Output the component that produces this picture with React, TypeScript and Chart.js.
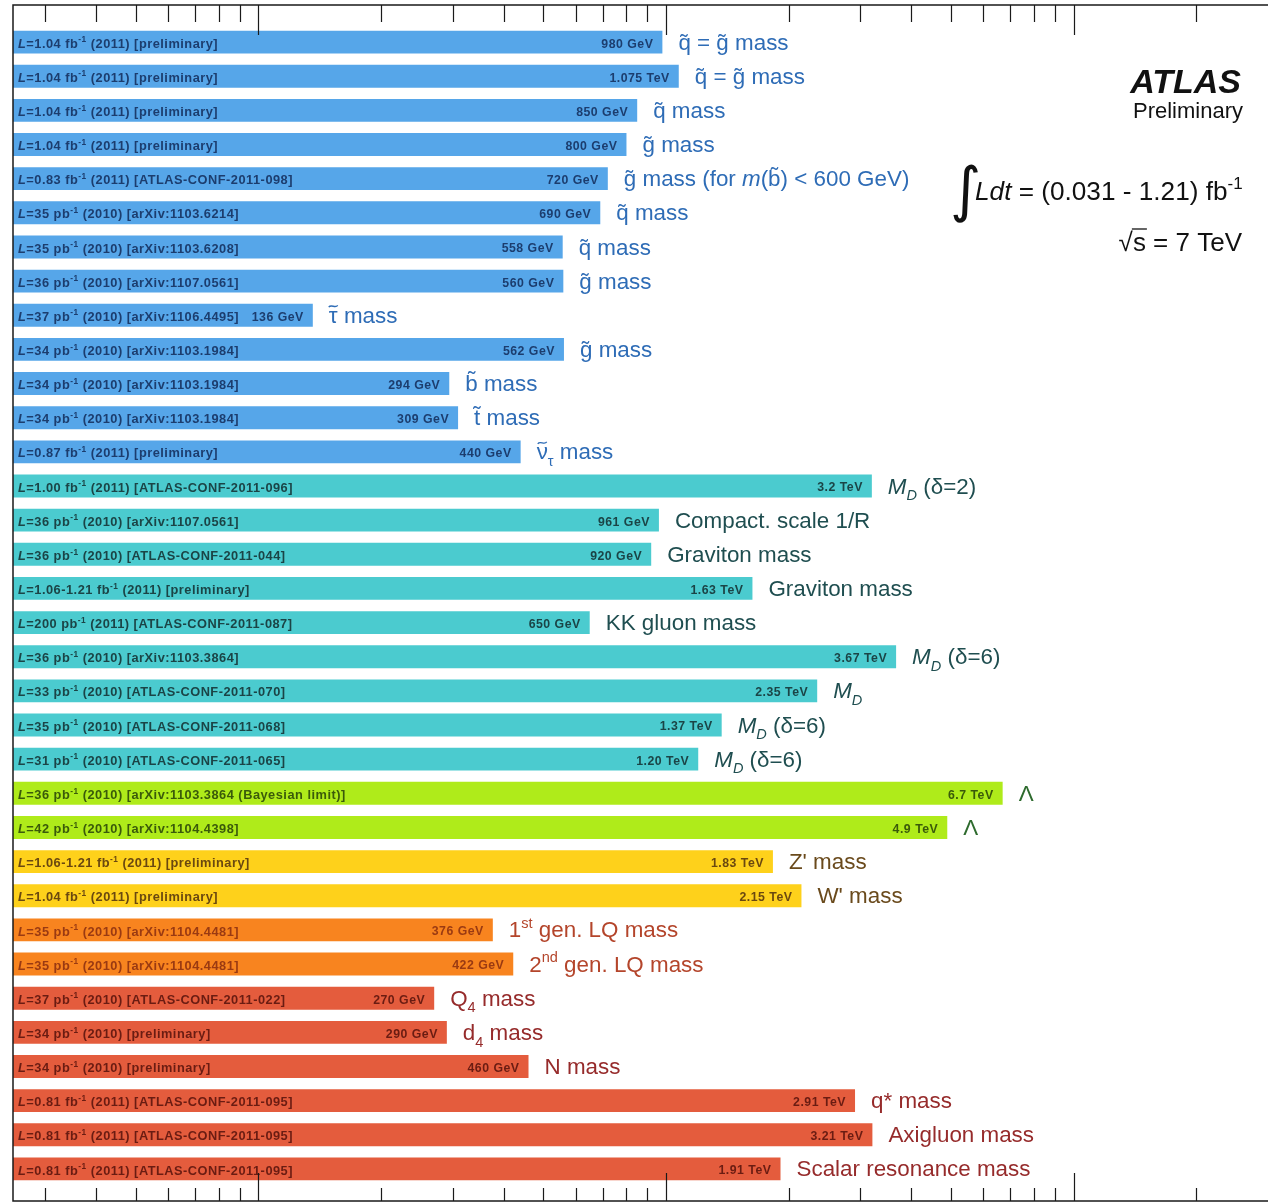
import React, { useEffect, useRef } from "react";
import { Chart, registerables } from "chart.js";

Chart.register(...registerables);

// Markup: _{..} subscript, ^{..} superscript, *{..} italic, ~{..} italic subscript, %{..} tilde over
const LABELS = [
  "q̃ = g̃ mass",
  "q̃ = g̃ mass",
  "q̃ mass",
  "g̃ mass",
  "g̃ mass (for *{m}(b̃) < 600 GeV)",
  "q̃ mass",
  "q̃ mass",
  "g̃ mass",
  "%{τ} mass",
  "g̃ mass",
  "b̃ mass",
  "t̃ mass",
  "%{ν}_{τ} mass",
  "*{M}~{D} (δ=2)",
  "Compact. scale 1/R",
  "Graviton mass",
  "Graviton mass",
  "KK gluon mass",
  "*{M}~{D} (δ=6)",
  "*{M}~{D}",
  "*{M}~{D} (δ=6)",
  "*{M}~{D} (δ=6)",
  "Λ",
  "Λ",
  "Z' mass",
  "W' mass",
  "1^{st} gen. LQ mass",
  "2^{nd} gen. LQ mass",
  "Q_{4} mass",
  "d_{4} mass",
  "N mass",
  "q* mass",
  "Axigluon mass",
  "Scalar resonance mass",
];

const VALUES_GEV = [
  980, 1075, 850, 800, 720, 690, 558, 560, 136, 562, 294, 309, 440,
  3200, 961, 920, 1630, 650, 3670, 2350, 1370, 1200,
  6700, 4900,
  1830, 2150,
  376, 422,
  270, 290, 460, 2910, 3210, 1910,
];

const VALUE_TEXT = [
  "980 GeV", "1.075 TeV", "850 GeV", "800 GeV", "720 GeV", "690 GeV", "558 GeV",
  "560 GeV", "136 GeV", "562 GeV", "294 GeV", "309 GeV", "440 GeV",
  "3.2 TeV", "961 GeV", "920 GeV", "1.63 TeV", "650 GeV", "3.67 TeV", "2.35 TeV",
  "1.37 TeV", "1.20 TeV",
  "6.7 TeV", "4.9 TeV",
  "1.83 TeV", "2.15 TeV",
  "376 GeV", "422 GeV",
  "270 GeV", "290 GeV", "460 GeV", "2.91 TeV", "3.21 TeV", "1.91 TeV",
];

const LUMI_TEXT = [
  "*{L}=1.04 fb^{-1} (2011) [preliminary]",
  "*{L}=1.04 fb^{-1} (2011) [preliminary]",
  "*{L}=1.04 fb^{-1} (2011) [preliminary]",
  "*{L}=1.04 fb^{-1} (2011) [preliminary]",
  "*{L}=0.83 fb^{-1} (2011) [ATLAS-CONF-2011-098]",
  "*{L}=35 pb^{-1} (2010) [arXiv:1103.6214]",
  "*{L}=35 pb^{-1} (2010) [arXiv:1103.6208]",
  "*{L}=36 pb^{-1} (2010) [arXiv:1107.0561]",
  "*{L}=37 pb^{-1} (2010) [arXiv:1106.4495]",
  "*{L}=34 pb^{-1} (2010) [arXiv:1103.1984]",
  "*{L}=34 pb^{-1} (2010) [arXiv:1103.1984]",
  "*{L}=34 pb^{-1} (2010) [arXiv:1103.1984]",
  "*{L}=0.87 fb^{-1} (2011) [preliminary]",
  "*{L}=1.00 fb^{-1} (2011) [ATLAS-CONF-2011-096]",
  "*{L}=36 pb^{-1} (2010) [arXiv:1107.0561]",
  "*{L}=36 pb^{-1} (2010) [ATLAS-CONF-2011-044]",
  "*{L}=1.06-1.21 fb^{-1} (2011) [preliminary]",
  "*{L}=200 pb^{-1} (2011) [ATLAS-CONF-2011-087]",
  "*{L}=36 pb^{-1} (2010) [arXiv:1103.3864]",
  "*{L}=33 pb^{-1} (2010) [ATLAS-CONF-2011-070]",
  "*{L}=35 pb^{-1} (2010) [ATLAS-CONF-2011-068]",
  "*{L}=31 pb^{-1} (2010) [ATLAS-CONF-2011-065]",
  "*{L}=36 pb^{-1} (2010) [arXiv:1103.3864 (Bayesian limit)]",
  "*{L}=42 pb^{-1} (2010) [arXiv:1104.4398]",
  "*{L}=1.06-1.21 fb^{-1} (2011) [preliminary]",
  "*{L}=1.04 fb^{-1} (2011) [preliminary]",
  "*{L}=35 pb^{-1} (2010) [arXiv:1104.4481]",
  "*{L}=35 pb^{-1} (2010) [arXiv:1104.4481]",
  "*{L}=37 pb^{-1} (2010) [ATLAS-CONF-2011-022]",
  "*{L}=34 pb^{-1} (2010) [preliminary]",
  "*{L}=34 pb^{-1} (2010) [preliminary]",
  "*{L}=0.81 fb^{-1} (2011) [ATLAS-CONF-2011-095]",
  "*{L}=0.81 fb^{-1} (2011) [ATLAS-CONF-2011-095]",
  "*{L}=0.81 fb^{-1} (2011) [ATLAS-CONF-2011-095]",
];

const GROUP = [
  0, 0, 0, 0, 0, 0, 0, 0, 0, 0, 0, 0, 0,
  1, 1, 1, 1, 1, 1, 1, 1, 1,
  2, 2,
  3, 3,
  4, 4,
  5, 5, 5, 5, 5, 5,
];

const GROUP_BAR = ["#56A6E9", "#4BCBCF", "#AFEB1A", "#FED11B", "#F8841F", "#E45C3D"];
const GROUP_LABEL = ["#2E6CB6", "#1F4E50", "#2E6B2E", "#6A4A1C", "#B4452B", "#962B2B"];
const GROUP_INNER = ["#1C3D6E", "#1B4446", "#3A5A0A", "#6A4810", "#9A3A12", "#6A1C12"];

const X_MIN = 25;
const X_MAX = 30000;

const FONT = "'Liberation Sans', Arial, Helvetica, sans-serif";

type Seg = { t: string; italic?: boolean; sub?: boolean; sup?: boolean; tilde?: boolean };

function parseRich(s: string): Seg[] {
  const segs: Seg[] = [];
  const re = /([_^*~%])\{([^}]*)\}/g;
  let last = 0;
  let m: RegExpExecArray | null;
  while ((m = re.exec(s)) !== null) {
    if (m.index > last) segs.push({ t: s.slice(last, m.index) });
    const k = m[1];
    if (k === "_") segs.push({ t: m[2], sub: true });
    else if (k === "^") segs.push({ t: m[2], sup: true });
    else if (k === "*") segs.push({ t: m[2], italic: true });
    else if (k === "%") segs.push({ t: m[2], tilde: true });
    else segs.push({ t: m[2], sub: true, italic: true });
    last = re.lastIndex;
  }
  if (last < s.length) segs.push({ t: s.slice(last) });
  return segs;
}

function segFont(seg: Seg, size: number, weight: string) {
  const sz = seg.sub || seg.sup ? size * 0.65 : size;
  return `${seg.italic ? "italic " : ""}${weight} ${sz}px ${FONT}`;
}

function drawRich(
  ctx: CanvasRenderingContext2D,
  text: string,
  x: number,
  y: number,
  size: number,
  weight: string,
  color: string,
  align: "left" | "right",
  spacing = 0
) {
  const segs = parseRich(text);
  ctx.save();
  ctx.textBaseline = "alphabetic";
  ctx.textAlign = "left";
  ctx.fillStyle = color;
  ctx.strokeStyle = color;
  (ctx as any).letterSpacing = `${spacing}px`;
  let total = 0;
  const widths = segs.map((s) => {
    ctx.font = segFont(s, size, weight);
    const w = ctx.measureText(s.t).width;
    total += w;
    return w;
  });
  let cx = align === "left" ? x : x - total;
  const base = y + size * 0.36;
  segs.forEach((s, i) => {
    ctx.font = segFont(s, size, weight);
    let dy = 0;
    if (s.sub) dy = size * 0.3;
    if (s.sup) dy = -size * 0.42;
    ctx.fillText(s.t, cx, base + dy);
    if (s.tilde) {
      const w = widths[i];
      const mx = cx + w / 2;
      const ty = base - size * 0.74;
      const hw = size * 0.2;
      const a = size * 0.07;
      ctx.lineWidth = size * 0.06;
      ctx.beginPath();
      ctx.moveTo(mx - hw, ty + a * 0.6);
      ctx.bezierCurveTo(mx - hw * 0.5, ty - a * 1.6, mx + hw * 0.5, ty + a * 1.6, mx + hw, ty - a * 0.6);
      ctx.stroke();
    }
    cx += widths[i];
  });
  ctx.restore();
}

const overlayPlugin = {
  id: "overlay",
  afterDatasetsDraw(chart: any) {
    const ctx: CanvasRenderingContext2D = chart.ctx;
    const meta = chart.getDatasetMeta(0);
    const xs = chart.scales.x;
    const area = chart.chartArea;

    meta.data.forEach((bar: any, i: number) => {
      const p = bar.getProps(["x", "y", "base"], true);
      const g = GROUP[i];
      drawRich(ctx, LUMI_TEXT[i], p.base + 5, p.y + 1, 12.8, "bold", GROUP_INNER[g], "left", 0.5);
      drawRich(ctx, VALUE_TEXT[i], p.x - 9, p.y + 1, 12.3, "bold", GROUP_INNER[g], "right", 0.5);
      drawRich(ctx, LABELS[i], p.x + 16, p.y - 0.5, 22.4, "normal", GROUP_LABEL[g], "left");
    });

    // frame
    const top = area.top - 20;
    const bottom = area.bottom + 15;
    ctx.save();
    ctx.strokeStyle = "#1a1a1a";
    ctx.lineWidth = 1.5;
    ctx.beginPath();
    ctx.moveTo(area.right + 2, top);
    ctx.lineTo(area.left, top);
    ctx.lineTo(area.left, bottom);
    ctx.lineTo(area.right + 2, bottom);
    ctx.stroke();

    ctx.lineWidth = 1.2;
    ctx.beginPath();
    for (let e = 1; e <= 4; e++) {
      for (let m = 1; m <= 9; m++) {
        const v = m * Math.pow(10, e);
        if (v <= X_MIN || v >= X_MAX) continue;
        const px = Math.round(xs.getPixelForValue(v)) + 0.5;
        const major = m === 1;
        ctx.moveTo(px, top);
        ctx.lineTo(px, top + (major ? 30 : 17));
        ctx.moveTo(px, bottom);
        ctx.lineTo(px, bottom - (major ? 28 : 13));
      }
    }
    ctx.stroke();
    ctx.restore();

    // annotations
    ctx.save();
    ctx.fillStyle = "#111";
    ctx.textAlign = "right";
    ctx.textBaseline = "alphabetic";
    ctx.font = `italic bold 34px ${FONT}`;
    ctx.fillText("ATLAS", 1241, 93);
    ctx.font = `22px ${FONT}`;
    ctx.fillText("Preliminary", 1243, 118);

    ctx.textAlign = "left";
    ctx.font = `60px 'DejaVu Sans', sans-serif`;
    ctx.fillText("∫", 950, 210);
    ctx.restore();
    drawRich(ctx, "*{Ldt} = (0.031 - 1.21) fb^{-1}", 975, 191, 26.2, "normal", "#111", "left");

    ctx.save();
    ctx.fillStyle = "#111";
    ctx.font = `26px ${FONT}`;
    ctx.textAlign = "left";
    const rest = "s = 7 TeV";
    const wRest = ctx.measureText(rest).width;
    const wSqrt = ctx.measureText("√").width;
    const wS = ctx.measureText("s").width;
    const startX = 1242 - wRest - wSqrt;
    const baseY = 251;
    ctx.fillText("√", startX, baseY);
    ctx.fillText(rest, startX + wSqrt, baseY);
    ctx.strokeStyle = "#111";
    ctx.lineWidth = 1.3;
    ctx.beginPath();
    ctx.moveTo(startX + wSqrt - 1, baseY - 22);
    ctx.lineTo(startX + wSqrt + wS + 1, baseY - 22);
    ctx.stroke();
    ctx.restore();
  },
};

export default function App() {
  const ref = useRef<HTMLCanvasElement | null>(null);

  useEffect(() => {
    if (!ref.current) return;
    const chart = new Chart(ref.current, {
      type: "bar",
      data: {
        labels: LABELS,
        datasets: [
          {
            data: VALUES_GEV,
            backgroundColor: GROUP.map((g) => GROUP_BAR[g]),
            borderWidth: 0,
            barPercentage: 0.67,
            categoryPercentage: 1,
          },
        ],
      },
      options: {
        indexAxis: "y",
        animation: false,
        responsive: true,
        maintainAspectRatio: false,
        layout: { padding: { left: 13, right: 0, top: 25, bottom: 17 } },
        plugins: {
          legend: { display: false },
          tooltip: { enabled: false },
        },
        scales: {
          x: {
            type: "logarithmic",
            min: X_MIN,
            max: X_MAX,
            display: false,
          },
          y: {
            type: "category",
            display: false,
          },
        },
      },
      plugins: [overlayPlugin],
    });
    return () => chart.destroy();
  }, []);

  return (
    <div style={{ position: "absolute", left: 0, top: 0, width: 1268, height: 1203, background: "#fff" }}>
      <canvas ref={ref} />
    </div>
  );
}
